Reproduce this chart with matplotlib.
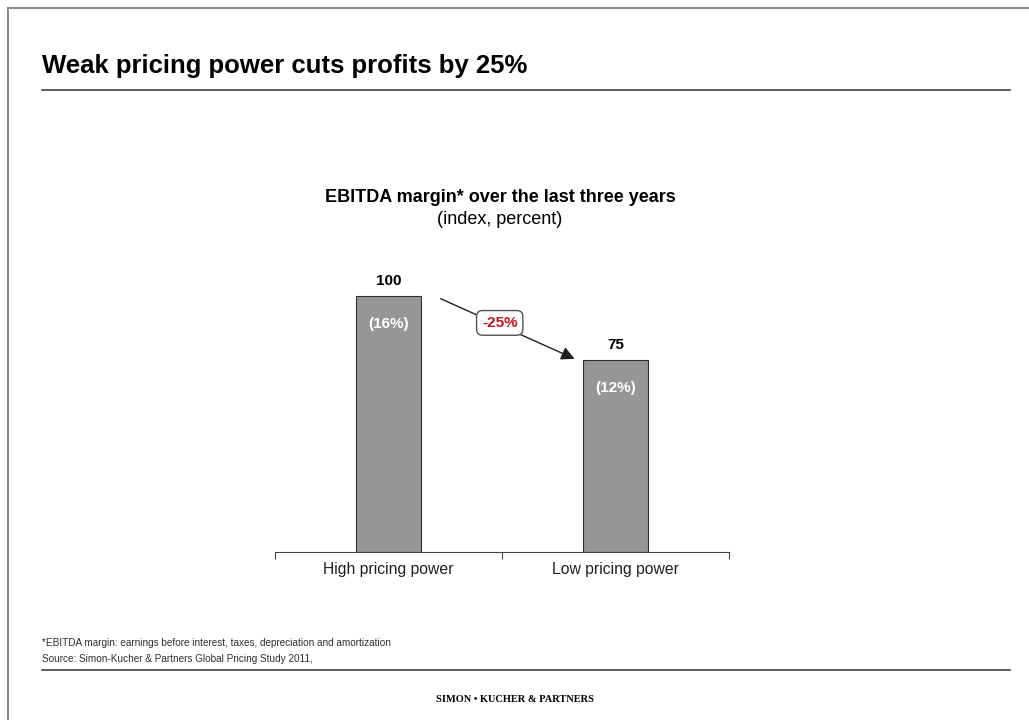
import matplotlib
matplotlib.use("Agg")
import matplotlib.pyplot as plt
from matplotlib.lines import Line2D

# Data
categories = ["High pricing power", "Low pricing power"]
index_values = [100, 75]
margin_labels = ["(16%)", "(12%)"]
change_label = "-25%"

plt.rcParams['font.family'] = ['Liberation Sans', 'DejaVu Sans']

fig = plt.figure(figsize=(10.29, 7.2), dpi=100)

# slide frame (top and left edges only) and rule lines
fig.add_artist(Line2D([8 / 1029, 8 / 1029], [0, 1 - 8 / 720], color='#8c8c8c', lw=1.5))
fig.add_artist(Line2D([8 / 1029, 1], [1 - 8 / 720, 1 - 8 / 720], color='#8c8c8c', lw=1.5))
fig.add_artist(Line2D([42 / 1029, 1010 / 1029], [1 - 90 / 720, 1 - 90 / 720], color='#404040', lw=1.2))
fig.add_artist(Line2D([42 / 1029, 1010 / 1029], [1 - 670 / 720, 1 - 670 / 720], color='#404040', lw=1.2))

# headline
fig.text(42 / 1029, 1 - 66 / 720, "Weak pricing power cuts profits by 25%",
         fontsize=18.5, fontweight='bold', va='center', ha='left', color='black')

# chart title
fig.text(500 / 1029, 1 - 197 / 720, "EBITDA margin* over the last three years",
         fontsize=13, fontweight='bold', ha='center', va='center')
fig.text(500 / 1029, 1 - 219 / 720, "(index, percent)",
         fontsize=13, ha='center', va='center')

# bar chart
ax = fig.add_axes([275 / 1029, 168 / 720, 454 / 1029, 307 / 720])
x = list(range(len(categories)))
ax.bar(x, index_values, width=0.29, color='#969696', edgecolor='#303030', linewidth=0.8)
ax.set_xlim(-0.5, 1.5)
ax.set_ylim(0, 120)

for i, v in enumerate(index_values):
    ax.text(i, v + 3, str(v), ha='center', va='bottom', fontsize=11, fontweight='bold')
    ax.text(i, v - 11, margin_labels[i], ha='center', va='center', fontsize=11,
            fontweight='bold', color='white')

for side in ['left', 'right', 'top']:
    ax.spines[side].set_visible(False)
ax.spines['bottom'].set_color('#404040')
ax.set_yticks([])
ax.set_xticks([-0.5, 0.5, 1.5])
ax.set_xticklabels([])
ax.tick_params(axis='x', direction='out', length=5, color='#404040')
for i, c in enumerate(categories):
    ax.text(i, -4, c, ha='center', va='top', fontsize=11.3, color='#202020')

# change arrow between the bars
x0, y0 = 0.23, index_values[0] - 1
x1, y1 = 0.82, index_values[1] + 0.5
ax.annotate("", xy=(x1, y1), xytext=(x0, y0),
            arrowprops=dict(arrowstyle='-|>,head_length=0.5,head_width=0.25', color='#202020',
                            lw=1.0, mutation_scale=16, shrinkA=0, shrinkB=0))
ax.text((x0 + x1) / 2 - 0.035, (y0 + y1) / 2 + 2.3, change_label, ha='center', va='center',
        fontsize=11, fontweight='bold', color='#c0141c',
        bbox=dict(boxstyle='round,pad=0.35,rounding_size=0.4', fc='white', ec='#505050', lw=1.0))

# footnotes
fig.text(42 / 1029, 1 - 643 / 720,
         "*EBITDA margin: earnings before interest, taxes, depreciation and amortization",
         fontsize=7.2, ha='left', va='center', color='#303030')
fig.text(42 / 1029, 1 - 659 / 720,
         "Source: Simon-Kucher & Partners Global Pricing Study 2011,",
         fontsize=7.2, ha='left', va='center', color='#303030')

fig.text(515 / 1029, 1 - 700 / 720, "SIMON \u2022 KUCHER & PARTNERS",
         fontsize=7.5, fontweight='bold', ha='center', va='center',
         family=['Liberation Serif', 'DejaVu Serif'])

fig.savefig("out.png", dpi=100)
